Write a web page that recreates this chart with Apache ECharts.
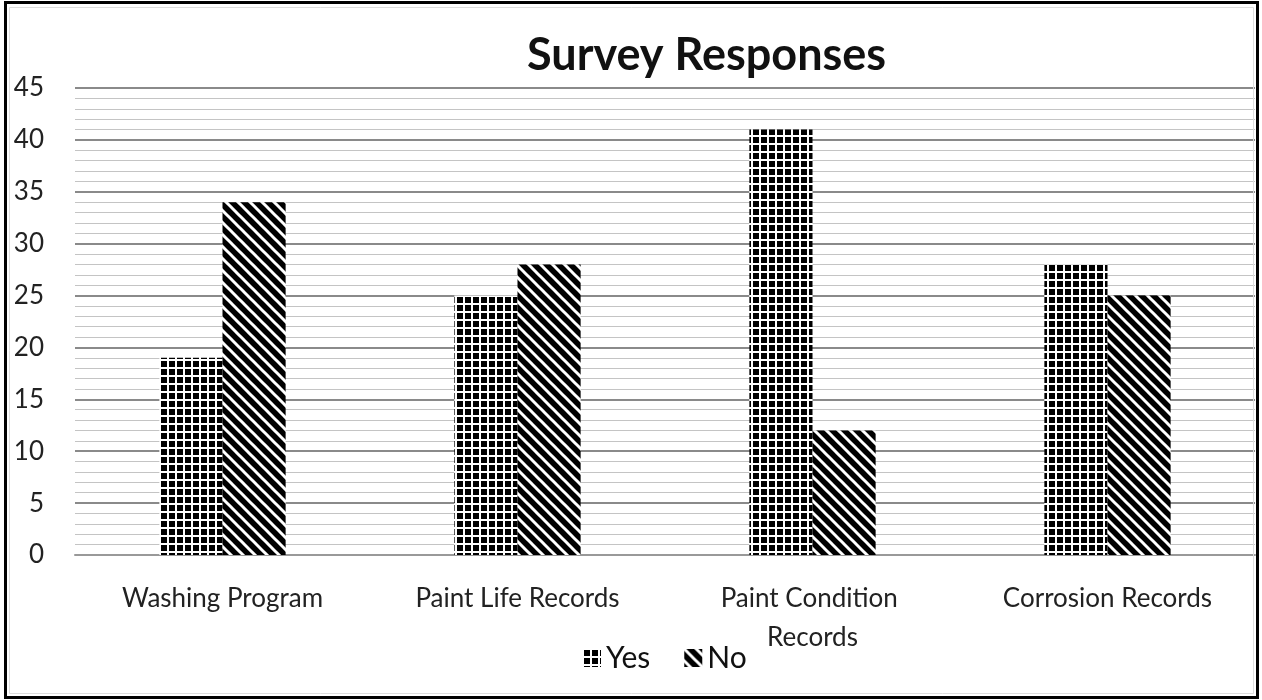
<!DOCTYPE html>
<html>
<head>
<meta charset="utf-8">
<script src="https://cdn.jsdelivr.net/npm/echarts@6/dist/echarts.min.js"></script>
<style>
html,body{margin:0;padding:0;background:#fff;}
#chart{width:1262px;height:700px;}
</style>
</head>
<body>
<div id="chart"></div>
<script>
const categories = ['Washing Program', 'Paint Life Records', 'Paint Condition Records', 'Corrosion Records'];
const seriesNames = ['Yes', 'No'];
const yesValues = [19, 25, 41, 28];
const noValues = [34, 28, 12, 25];
const yTicks = [0, 5, 10, 15, 20, 25, 30, 35, 40, 45];

function gridPattern() {
  const c = document.createElement('canvas');
  c.width = 8; c.height = 8;
  const g = c.getContext('2d');
  g.fillStyle = '#fff'; g.fillRect(0, 0, 8, 8);
  g.fillStyle = '#000'; g.fillRect(1, 1, 6, 6);
  return c;
}
function stripePattern() {
  const s = 12;
  const c = document.createElement('canvas');
  c.width = s; c.height = s;
  const g = c.getContext('2d');
  g.fillStyle = '#000'; g.fillRect(0, 0, s, s);
  g.strokeStyle = '#fff'; g.lineWidth = 3;
  for (let k = -1; k <= 1; k++) {
    g.beginPath();
    g.moveTo(k * s - 2, -2);
    g.lineTo(k * s + s + 2, s + 2);
    g.stroke();
  }
  return c;
}

const chart = echarts.init(document.getElementById('chart'));
const font = 'Lato, "Open Sans", sans-serif';
chart.setOption({
  animation: false,
  backgroundColor: '#fff',
  textStyle: { fontFamily: font },
  title: {
    text: 'Survey Responses',
    left: 522,
    top: 28,
    textStyle: { fontSize: 45, fontWeight: 'bold', color: '#111', fontFamily: font }
  },
  legend: {
    data: seriesNames,
    left: 578,
    top: 638,
    itemWidth: 18,
    itemHeight: 18,
    itemGap: 34,
    icon: 'rect',
    textStyle: { fontSize: 30, color: '#111', fontFamily: font }
  },
  grid: { left: 75, right: 7, top: 88, bottom: 145 },
  xAxis: {
    type: 'category',
    data: categories,
    axisLine: { show: true, lineStyle: { color: '#999', width: 2 } },
    axisTick: { show: false },
    axisLabel: {
      fontSize: 26, color: '#222', margin: 24, width: 250, overflow: 'break',
      lineHeight: 39, fontFamily: font, interval: 0
    }
  },
  yAxis: {
    type: 'value',
    min: yTicks[0],
    max: yTicks[yTicks.length - 1],
    interval: 5,
    axisLine: { show: false },
    axisTick: { show: false },
    axisLabel: { fontSize: 26, color: '#222', margin: 31, fontFamily: font },
    splitLine: { lineStyle: { color: '#8a8a8a', width: 2 } },
    minorTick: { show: false, splitNumber: 5 },
    minorSplitLine: { show: true, lineStyle: { color: '#c4c4c4', width: 1 } }
  },
  series: [
    {
      name: seriesNames[0], type: 'bar', data: yesValues,
      barWidth: '21.4%', barGap: '0%',
      itemStyle: { color: { image: gridPattern(), repeat: 'repeat' } }
    },
    {
      name: seriesNames[1], type: 'bar', data: noValues,
      barWidth: '21.4%', barGap: '0%',
      itemStyle: { color: { image: stripePattern(), repeat: 'repeat' } }
    }
  ],
  graphic: [
    { type: 'rect', silent: true, z: 100,
      shape: { x: 5.5, y: 2.5, width: 1252, height: 695 },
      style: { fill: 'none', stroke: '#000', lineWidth: 3 } },
    { type: 'rect', silent: true, z: 100,
      shape: { x: 9.5, y: 7.5, width: 1244, height: 686 },
      style: { fill: 'none', stroke: '#ddd', lineWidth: 1 } }
  ]
});
</script>
</body>
</html>
